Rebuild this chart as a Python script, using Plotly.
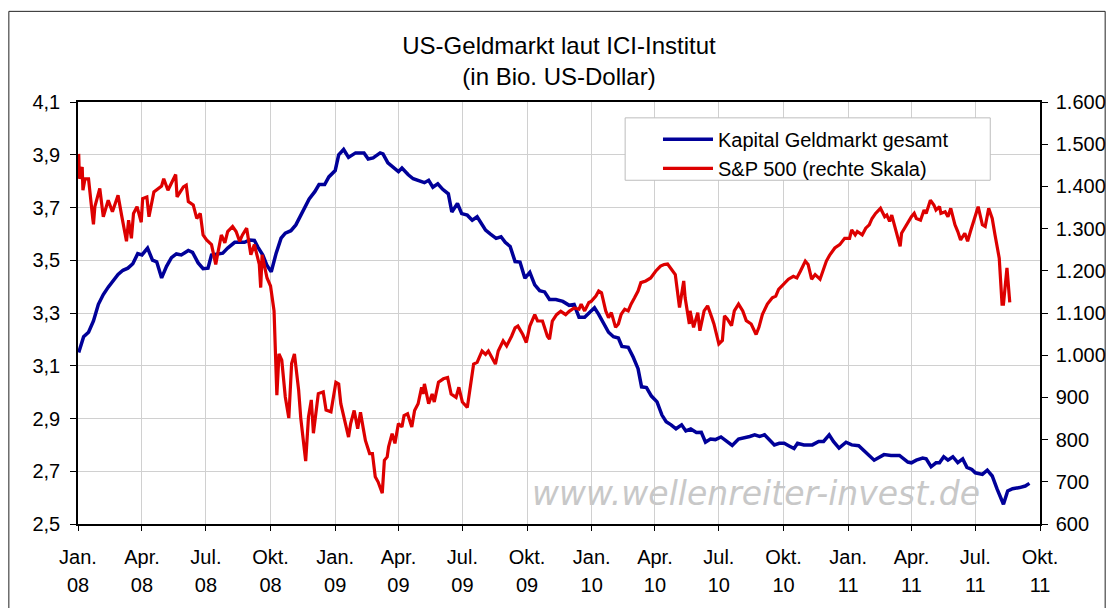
import plotly.graph_objects as go

# ---------------- data ----------------
quarter_ticks = ["2008-01-01", "2008-04-01", "2008-07-01", "2008-10-01",
                 "2009-01-01", "2009-04-01", "2009-07-01", "2009-10-01",
                 "2010-01-01", "2010-04-01", "2010-07-01", "2010-10-01",
                 "2011-01-01", "2011-04-01", "2011-07-01", "2011-10-01"]
month_labels = ["Jan.", "Apr.", "Jul.", "Okt."] * 4
year_labels = ["08"] * 4 + ["09"] * 4 + ["10"] * 4 + ["11"] * 4

left_ticks = [2.5, 2.7, 2.9, 3.1, 3.3, 3.5, 3.7, 3.9, 4.1]
right_ticks = [600, 700, 800, 900, 1000, 1100, 1200, 1300, 1400, 1500, 1600]

geld_dates = [
    "2008-01-02", "2008-01-09", "2008-01-16", "2008-01-23", "2008-01-30", "2008-02-06", "2008-02-13",
    "2008-02-20", "2008-02-27", "2008-03-05", "2008-03-12", "2008-03-19", "2008-03-26", "2008-04-01",
    "2008-04-09", "2008-04-16", "2008-04-22", "2008-04-29", "2008-05-06", "2008-05-13", "2008-05-20",
    "2008-05-27", "2008-06-06", "2008-06-12", "2008-06-20", "2008-06-27", "2008-07-04", "2008-07-09",
    "2008-07-16", "2008-07-25", "2008-08-01", "2008-08-11", "2008-08-18", "2008-08-25", "2008-09-01",
    "2008-09-08", "2008-09-13", "2008-09-20", "2008-09-26", "2008-10-02", "2008-10-09", "2008-10-16",
    "2008-10-22", "2008-10-30", "2008-11-06", "2008-11-15", "2008-11-25", "2008-12-03", "2008-12-09",
    "2008-12-17", "2008-12-23",
    "2009-01-01", "2009-01-06", "2009-01-13", "2009-01-20", "2009-01-30", "2009-02-11", "2009-02-17",
    "2009-02-24", "2009-03-06", "2009-03-10", "2009-03-17", "2009-03-27", "2009-04-01", "2009-04-06",
    "2009-04-15", "2009-04-22", "2009-05-01", "2009-05-08", "2009-05-14", "2009-05-20", "2009-05-27",
    "2009-06-03", "2009-06-11", "2009-06-16", "2009-06-24", "2009-06-30", "2009-07-08", "2009-07-15",
    "2009-07-22", "2009-08-03", "2009-08-10", "2009-08-18", "2009-08-25", "2009-08-31", "2009-09-07",
    "2009-09-14", "2009-09-21", "2009-09-28", "2009-10-05", "2009-10-12", "2009-10-19", "2009-10-26",
    "2009-11-02", "2009-11-11", "2009-11-21", "2009-11-30", "2009-12-07", "2009-12-14", "2009-12-22",
    "2010-01-01", "2010-01-05", "2010-01-11", "2010-01-18", "2010-01-25", "2010-02-01", "2010-02-08",
    "2010-02-13", "2010-02-22", "2010-03-01", "2010-03-08", "2010-03-13", "2010-03-20", "2010-03-27",
    "2010-04-04", "2010-04-11", "2010-04-17", "2010-04-24", "2010-05-01", "2010-05-09", "2010-05-15",
    "2010-05-22", "2010-05-30", "2010-06-06", "2010-06-12", "2010-06-19", "2010-06-26", "2010-07-04",
    "2010-07-12", "2010-07-20", "2010-07-29", "2010-08-07", "2010-08-14", "2010-08-21", "2010-08-28",
    "2010-09-04", "2010-09-11", "2010-09-18", "2010-09-25", "2010-10-02", "2010-10-09", "2010-10-16",
    "2010-10-21", "2010-10-30", "2010-11-11", "2010-11-20", "2010-11-27", "2010-12-05", "2010-12-11",
    "2010-12-19", "2010-12-29",
    "2011-01-06", "2011-01-16", "2011-01-26", "2011-02-07", "2011-02-21", "2011-03-03", "2011-03-15",
    "2011-03-27", "2011-04-01", "2011-04-08", "2011-04-17", "2011-04-22", "2011-04-29", "2011-05-06",
    "2011-05-11", "2011-05-17", "2011-05-23", "2011-05-30", "2011-06-06", "2011-06-13", "2011-06-19",
    "2011-06-26", "2011-07-01", "2011-07-11", "2011-07-18", "2011-07-25", "2011-08-01", "2011-08-10",
    "2011-08-16", "2011-08-23", "2011-09-02", "2011-09-10", "2011-09-16"]
geld_values = [
    3.150, 3.210, 3.227, 3.270, 3.333, 3.370, 3.398,
    3.420, 3.446, 3.462, 3.470, 3.487, 3.525, 3.520,
    3.546, 3.500, 3.494, 3.433, 3.477, 3.510, 3.524,
    3.520, 3.537, 3.530, 3.490, 3.468, 3.470, 3.520,
    3.524, 3.527, 3.546, 3.568, 3.568, 3.568, 3.577,
    3.575, 3.550, 3.520, 3.480, 3.456, 3.527, 3.584,
    3.603, 3.612, 3.634, 3.678, 3.732, 3.760, 3.787,
    3.787, 3.816,
    3.840, 3.900, 3.920, 3.890, 3.907, 3.907, 3.884,
    3.888, 3.907, 3.903, 3.869, 3.849, 3.836, 3.850,
    3.824, 3.809, 3.799, 3.794, 3.803, 3.777, 3.790,
    3.769, 3.752, 3.683, 3.715, 3.677, 3.671, 3.652,
    3.665, 3.614, 3.599, 3.583, 3.589, 3.568, 3.552,
    3.495, 3.493, 3.432, 3.454, 3.407, 3.385, 3.380,
    3.351, 3.351, 3.344, 3.329, 3.332, 3.284, 3.284,
    3.308, 3.320, 3.295, 3.258, 3.227, 3.210, 3.205,
    3.173, 3.170, 3.133, 3.089, 3.020, 3.017, 2.985,
    2.963, 2.913, 2.888, 2.876, 2.861, 2.876, 2.853,
    2.860, 2.847, 2.848, 2.810, 2.822, 2.820, 2.830,
    2.813, 2.798, 2.822, 2.826, 2.832, 2.838, 2.832,
    2.838, 2.819, 2.800, 2.806, 2.806, 2.796, 2.786,
    2.806, 2.800, 2.800, 2.813, 2.813, 2.838, 2.813,
    2.788, 2.810,
    2.800, 2.797, 2.772, 2.742, 2.763, 2.760, 2.760,
    2.735, 2.732, 2.742, 2.750, 2.747, 2.717, 2.732,
    2.732, 2.755, 2.742, 2.755, 2.733, 2.747, 2.715,
    2.707, 2.694, 2.688, 2.704, 2.682, 2.632, 2.575,
    2.625, 2.634, 2.638, 2.644, 2.654]

sp_dates = [
    "2008-01-02", "2008-01-03", "2008-01-07", "2008-01-08", "2008-01-11", "2008-01-16", "2008-01-22",
    "2008-01-23", "2008-01-25", "2008-02-01", "2008-02-06", "2008-02-13", "2008-02-19", "2008-02-27",
    "2008-03-03", "2008-03-10", "2008-03-13", "2008-03-17", "2008-03-20", "2008-03-25", "2008-03-31",
    "2008-04-02", "2008-04-08", "2008-04-11", "2008-04-18", "2008-04-24", "2008-04-29", "2008-05-02",
    "2008-05-08", "2008-05-19", "2008-05-21", "2008-05-30", "2008-06-03", "2008-06-06", "2008-06-13",
    "2008-06-18", "2008-06-23", "2008-06-27", "2008-07-02", "2008-07-09", "2008-07-15", "2008-07-18",
    "2008-07-23", "2008-07-28", "2008-08-01", "2008-08-08", "2008-08-13", "2008-08-18", "2008-08-22",
    "2008-08-28", "2008-09-03", "2008-09-08", "2008-09-15", "2008-09-17", "2008-09-19", "2008-09-26",
    "2008-10-01", "2008-10-06", "2008-10-09", "2008-10-10", "2008-10-13", "2008-10-17", "2008-10-22",
    "2008-10-27", "2008-10-31", "2008-11-04", "2008-11-10", "2008-11-13", "2008-11-20", "2008-11-24",
    "2008-11-28", "2008-12-01", "2008-12-08", "2008-12-15", "2008-12-19", "2008-12-26",
    "2009-01-02", "2009-01-06", "2009-01-09", "2009-01-15", "2009-01-20", "2009-01-23", "2009-01-28",
    "2009-02-02", "2009-02-06", "2009-02-10", "2009-02-13", "2009-02-19", "2009-02-23", "2009-02-27",
    "2009-03-03", "2009-03-09", "2009-03-12", "2009-03-16", "2009-03-18", "2009-03-23", "2009-03-27",
    "2009-04-01", "2009-04-06", "2009-04-09", "2009-04-14", "2009-04-20", "2009-04-24", "2009-04-29",
    "2009-05-04", "2009-05-06", "2009-05-08", "2009-05-14", "2009-05-19", "2009-05-22", "2009-05-28",
    "2009-06-04", "2009-06-10", "2009-06-15", "2009-06-22", "2009-06-26", "2009-07-01", "2009-07-08",
    "2009-07-13", "2009-07-17", "2009-07-22", "2009-07-29", "2009-08-03", "2009-08-07", "2009-08-17",
    "2009-08-21", "2009-08-28", "2009-09-02", "2009-09-09", "2009-09-14", "2009-09-18", "2009-09-25",
    "2009-09-30", "2009-10-05", "2009-10-12", "2009-10-16", "2009-10-23", "2009-10-30", "2009-11-02",
    "2009-11-06", "2009-11-12", "2009-11-18", "2009-11-25", "2009-11-30", "2009-12-07", "2009-12-14",
    "2009-12-17", "2009-12-22", "2009-12-28", "2009-12-31",
    "2010-01-07", "2010-01-11", "2010-01-15", "2010-01-21", "2010-01-25", "2010-01-29", "2010-02-04",
    "2010-02-08", "2010-02-12", "2010-02-17", "2010-02-22", "2010-02-26", "2010-03-03", "2010-03-08",
    "2010-03-12", "2010-03-19", "2010-03-26", "2010-04-02", "2010-04-09", "2010-04-14", "2010-04-19",
    "2010-04-23", "2010-04-30", "2010-05-06", "2010-05-10", "2010-05-12", "2010-05-14", "2010-05-20",
    "2010-05-21", "2010-05-26", "2010-06-01", "2010-06-04", "2010-06-10", "2010-06-15", "2010-06-21",
    "2010-06-24", "2010-07-01", "2010-07-06", "2010-07-09", "2010-07-13", "2010-07-19", "2010-07-23",
    "2010-07-29", "2010-08-04", "2010-08-09", "2010-08-16", "2010-08-23", "2010-08-27", "2010-09-01",
    "2010-09-08", "2010-09-15", "2010-09-20", "2010-09-24", "2010-10-01", "2010-10-08", "2010-10-15",
    "2010-10-20", "2010-10-25", "2010-11-01", "2010-11-05", "2010-11-10", "2010-11-15", "2010-11-22",
    "2010-12-01", "2010-12-06", "2010-12-13", "2010-12-20", "2010-12-27",
    "2011-01-03", "2011-01-06", "2011-01-11", "2011-01-14", "2011-01-21", "2011-01-26", "2011-01-31",
    "2011-02-04", "2011-02-09", "2011-02-16", "2011-02-22", "2011-02-25", "2011-03-01", "2011-03-04",
    "2011-03-10", "2011-03-16", "2011-03-18", "2011-03-25", "2011-04-01", "2011-04-05", "2011-04-08",
    "2011-04-14", "2011-04-19", "2011-04-22", "2011-04-28", "2011-05-03", "2011-05-06", "2011-05-11",
    "2011-05-13", "2011-05-19", "2011-05-23", "2011-05-27", "2011-06-02", "2011-06-06", "2011-06-10",
    "2011-06-16", "2011-06-20", "2011-06-24", "2011-07-01", "2011-07-05", "2011-07-11", "2011-07-15",
    "2011-07-20", "2011-07-25", "2011-07-29", "2011-08-04", "2011-08-08", "2011-08-10", "2011-08-15",
    "2011-08-17", "2011-08-19"]
sp_values = [
    1477, 1418, 1446, 1391, 1418, 1418, 1324,
    1310, 1352, 1395, 1328, 1367, 1340, 1379,
    1332, 1270, 1320, 1277, 1336, 1352, 1315,
    1371, 1375, 1328, 1387, 1396, 1401, 1418,
    1391, 1428, 1375, 1399, 1403, 1364, 1356,
    1324, 1336, 1285, 1273, 1262, 1215, 1242,
    1285, 1266, 1293, 1305, 1293, 1270, 1285,
    1301, 1238, 1262, 1215, 1160, 1238, 1183,
    1164, 1105, 909, 905, 1003, 988, 901,
    851, 980, 1003, 917, 851, 749, 854,
    894, 815, 909, 913, 870, 866,
    936, 932, 885, 846, 806, 838, 869,
    826, 865, 826, 798, 767, 767, 712,
    700, 673, 751, 759, 783, 814, 791,
    838, 830, 857, 861, 830, 869, 885,
    924, 908, 932, 885, 908, 889, 936,
    944, 947, 908, 900, 924, 889, 876,
    940, 979, 983, 1010, 1002, 1010, 979,
    1010, 1034, 1022, 1045, 1065, 1069, 1049,
    1030, 1069, 1096, 1081, 1081, 1045, 1038,
    1081, 1096, 1104, 1096, 1104, 1112, 1109,
    1121, 1105, 1125, 1127,
    1140, 1152, 1148, 1105, 1089, 1101, 1066,
    1074, 1097, 1109, 1105, 1121, 1136, 1152,
    1172, 1176, 1183, 1199, 1211, 1215, 1216,
    1207, 1191, 1113, 1152, 1176, 1136, 1074,
    1105, 1066, 1101, 1058, 1105, 1117, 1089,
    1074, 1027, 1035, 1093, 1086, 1070, 1105,
    1121, 1105, 1082, 1074, 1049, 1066, 1097,
    1121, 1136, 1140, 1156, 1168, 1180, 1187,
    1183, 1199, 1223, 1215, 1180, 1191, 1180,
    1223, 1238, 1254, 1262, 1277,
    1277, 1297, 1285, 1293, 1285, 1301, 1309,
    1324, 1336, 1348, 1328, 1332, 1317, 1332,
    1297, 1258, 1289, 1309, 1328, 1336, 1324,
    1320, 1344, 1336, 1367, 1356, 1344, 1352,
    1336, 1340, 1328, 1348, 1309, 1293, 1273,
    1289, 1270, 1293, 1332, 1352, 1309, 1305,
    1348, 1324, 1285, 1230, 1121, 1121, 1207,
    1168, 1125]

# ---------------- figure ----------------
FONT = "Liberation Sans, Arial, sans-serif"
OFF = 8                       # page offset of the figure (body margin)
PL, PR, PT, PB = 78, 1045, 102, 528   # plot area in page pixels
W, H = 1118 - OFF, 608 - OFF
ML, MT = PL - OFF, PT - OFF
MR = W - (PR - OFF)
MB = H - (PB - OFF)
PW, PH = PR - PL, PB - PT


def px_x(p):
    return (p - PL) / PW


def px_y(p):
    return (PB - p) / PH


fig = go.Figure()
fig.add_trace(go.Scatter(x=geld_dates, y=geld_values, mode="lines",
                         name="Kapital Geldmarkt gesamt",
                         line=dict(color="#000099", width=3.5), yaxis="y"))
fig.add_trace(go.Scatter(x=sp_dates, y=sp_values, mode="lines",
                         name="S&P 500 (rechte Skala)",
                         line=dict(color="#dd0000", width=3.2), yaxis="y2"))
# helper trace activating the second x axis that carries the year row
fig.add_trace(go.Scatter(x=[quarter_ticks[0]], y=[None], xaxis="x2", yaxis="y",
                         showlegend=False, hoverinfo="skip", mode="lines"))

grid = "#d0d0d0"
TICKFONT = dict(family=FONT, size=20, color="black")
fig.update_layout(
    width=W, height=H,
    margin=dict(l=ML, r=MR, t=MT, b=MB),
    paper_bgcolor="white", plot_bgcolor="white",
    separators=",.",
    font=dict(family=FONT, size=20, color="black"),
    title=dict(text="US-Geldmarkt laut ICI-Institut<br>(in Bio. US-Dollar)",
               x=0.5, xref="paper", xanchor="center",
               y=1 - (54 - OFF) / H, yref="container", yanchor="middle",
               font=dict(family=FONT, size=24, color="black")),
    xaxis=dict(type="date", range=[quarter_ticks[0], quarter_ticks[-1]],
               tickmode="array", tickvals=quarter_ticks, ticktext=month_labels,
               showgrid=True, gridcolor=grid, gridwidth=1,
               ticks="outside", ticklen=5, tickcolor="black", tickwidth=1,
               showline=True, linecolor="black", linewidth=1.5, mirror=True,
               ticklabelstandoff=9, tickfont=TICKFONT, zeroline=False),
    xaxis2=dict(type="date", range=[quarter_ticks[0], quarter_ticks[-1]],
                overlaying="x", anchor="y", side="bottom",
                tickmode="array", tickvals=quarter_ticks, ticktext=year_labels,
                showgrid=False, ticks="", showline=False, zeroline=False,
                ticklabelstandoff=47, tickfont=TICKFONT),
    yaxis=dict(range=[2.5, 4.1], tickmode="array", tickvals=left_ticks,
               tickformat=".1f", showgrid=True, gridcolor=grid, gridwidth=1,
               ticks="outside", ticklen=6, tickcolor="black",
               showline=True, linecolor="black", linewidth=1.5,
               zeroline=False, ticklabelstandoff=6, tickfont=TICKFONT),
    yaxis2=dict(range=[600, 1600], overlaying="y", side="right",
                tickmode="array", tickvals=right_ticks, tickformat=",d",
                showgrid=False, ticks="outside", ticklen=6, tickcolor="black",
                showline=True, linecolor="black", linewidth=1.5,
                zeroline=False, ticklabelstandoff=4, tickfont=TICKFONT),
    legend=dict(x=px_x(661), y=px_y(120), xanchor="left", yanchor="top",
                bgcolor="rgba(0,0,0,0)", borderwidth=0,
                font=dict(family=FONT, size=20, color="black"),
                itemwidth=50, tracegroupgap=0),
    showlegend=True,
)

# legend box
fig.add_shape(type="rect", xref="paper", yref="paper",
              x0=px_x(628), x1=px_x(995), y0=px_y(181), y1=px_y(118),
              fillcolor="white", line=dict(color="#bdbdbd", width=1), layer="above")
# outer chart border
fig.add_shape(type="rect", xref="paper", yref="paper",
              x0=px_x(8.5), x1=px_x(1110.5), y0=px_y(640), y1=px_y(10.5),
              line=dict(color="#222222", width=1), fillcolor="rgba(0,0,0,0)", layer="above")

# watermark
fig.add_annotation(text="<i>www.wellenreiter-invest.de</i>", xref="paper", yref="paper",
                   x=px_x(760), y=px_y(497), xanchor="center", yanchor="middle",
                   showarrow=False,
                   font=dict(family="DejaVu Sans, sans-serif", size=33, color="#c8c8c8"))

fig.write_html("out.html")
